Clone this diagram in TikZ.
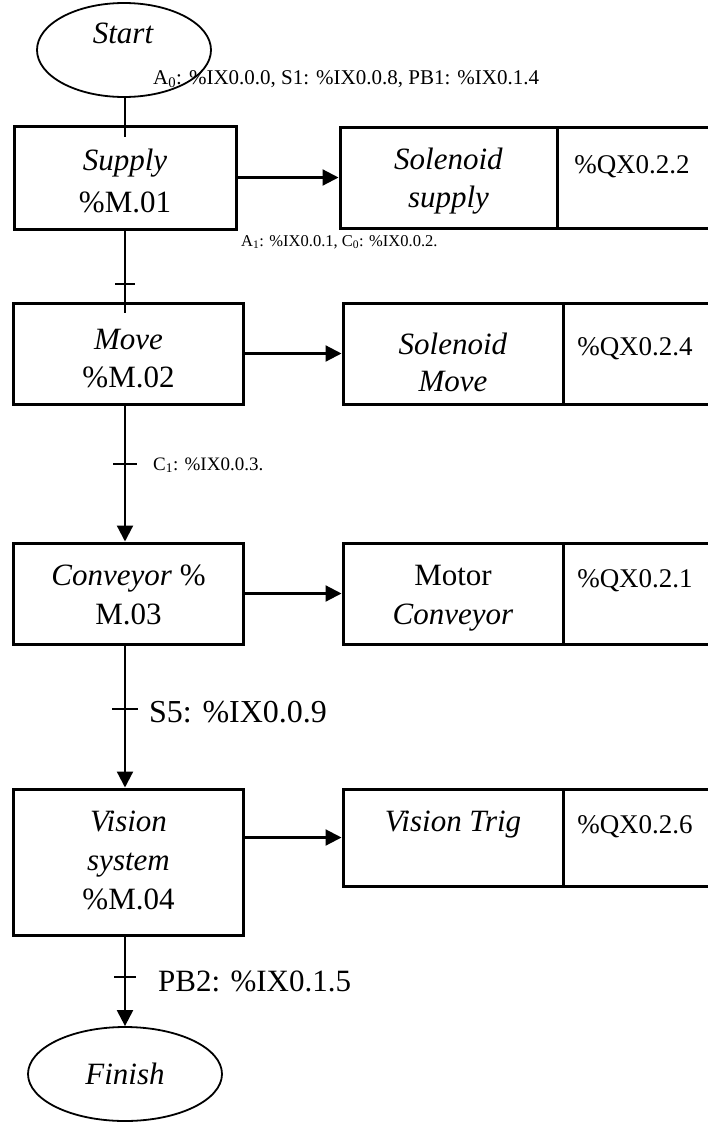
\documentclass[tikz,border=0pt]{standalone}
\usepackage{fontspec}
\setmainfont{Liberation Serif}
\usetikzlibrary{arrows.meta,shapes.geometric}
\begin{document}
\begin{tikzpicture}[x=1pt,y=-1pt,
  box/.style={draw, line width=3pt, inner sep=0pt},
  term/.style={draw, ellipse, line width=1.8pt, inner sep=0pt},
  txt/.style={inner sep=0pt, anchor=north, align=center, font=\fontsize{31}{39}\selectfont},
  termtxt/.style={inner sep=0pt, anchor=base, font=\fontsize{31}{39}\selectfont\itshape},
  addr/.style={inner sep=0pt, anchor=base, font=\fontsize{27}{32}\selectfont},
  cond/.style={inner sep=0pt, anchor=base west},
  link/.style={line width=2.2pt},
  flow/.style={line width=2.2pt, -{Triangle[length=16pt,width=16pt]}},
  tick/.style={line width=2.8pt}
]
\useasboundingbox (0,0) rectangle (707,1122);

% terminal steps
\node[term, minimum width=174, minimum height=94] (start) at (124,50) {};
\node[termtxt] (starttxt) at (123,43) {Start};
\node[term, minimum width=194, minimum height=94] (finish) at (125,1074) {};
\node[termtxt] (finishtxt) at (125,1084) {Finish};

% sequence steps
\node[box, minimum width=222, minimum height=103] (supply) at (125,177.5) {};
\node[box, minimum width=230, minimum height=101] (move)   at (128.5,353.5) {};
\node[box, minimum width=230, minimum height=101] (conv)   at (128.5,593.5) {};
\node[box, minimum width=230, minimum height=146] (vision) at (128.5,862) {};

\node[txt, font=\fontsize{31}{42}\selectfont] (supplytxt) at (125,149) {\textit{Supply}\\\%M.01};
\node[txt, font=\fontsize{31}{38}\selectfont] (movetxt) at (128.5,329) {\textit{Move}\\\%M.02};
\node[txt] (convtxt) at (128.5,565) {\textit{Conveyor} \%\\M.03};
\node[txt] (visiontxt) at (128.5,811) {\textit{Vision}\\\textit{system}\\\%M.04};

% actions: description cell and output cell
\node[box, minimum width=217, minimum height=101] (act1) at (448.5,177.5) {};
\node[box, minimum width=155, minimum height=101] (out1) at (634.5,177.5) {};
\node[box, minimum width=220, minimum height=101] (act2) at (453,353.5) {};
\node[box, minimum width=149, minimum height=101] (out2) at (637.5,353.5) {};
\node[box, minimum width=220, minimum height=101] (act3) at (453,593.5) {};
\node[box, minimum width=149, minimum height=101] (out3) at (637.5,593.5) {};
\node[box, minimum width=220, minimum height=97]  (act4) at (453,837.5) {};
\node[box, minimum width=149, minimum height=97]  (out4) at (637.5,837.5) {};

\node[txt, font=\fontsize{31}{38}\selectfont] (act1txt) at (448.5,148) {\textit{Solenoid}\\\textit{supply}};
\node[txt, font=\fontsize{31}{37}\selectfont] (act2txt) at (453,333) {\textit{Solenoid}\\\textit{Move}};
\node[txt] (act3txt) at (453,565) {Motor\\\textit{Conveyor}};
\node[txt] (act4txt) at (453,811) {\textit{Vision Trig}};

\node[addr] (out1txt) at (632,173) {\%QX0.2.2};
\node[addr] (out2txt) at (635,355) {\%QX0.2.4};
\node[addr] (out3txt) at (635,587) {\%QX0.2.1};
\node[addr] (out4txt) at (635,833) {\%QX0.2.6};

% action arrows
\draw[flow] (supply.east |- act1.west) -- (act1.west);
\draw[flow] (move.east |- act2.west) -- (act2.west);
\draw[flow] (conv.east |- act3.west) -- (act3.west);
\draw[flow] (vision.east |- act4.west) -- (act4.west);

% sequence links
\coordinate (col) at (125,0);
\draw[link] (col |- start.south) -- ([yshift=-12pt]col |- supply.north);
\draw[link] (col |- supply.south) -- ([yshift=-11pt]col |- move.north);
\draw[flow] (col |- move.south) -- (col |- conv.north);
\draw[flow] (col |- conv.south) -- (col |- vision.north);
\draw[flow] (col |- vision.south) -- (col |- finish.north);

% transitions
\coordinate (t1) at (125,284);
\coordinate (t2) at (125,464);
\coordinate (t3) at (125,709);
\coordinate (t4) at (125,977);
\draw[line width=1.2pt] ([xshift=-10pt]t1) -- ([xshift=10pt]t1);
\draw[tick] ([xshift=-12pt]t2) -- ([xshift=12pt]t2);
\draw[tick] ([xshift=-13pt]t3) -- ([xshift=13pt]t3);
\draw[tick] ([xshift=-11pt]t4) -- ([xshift=11pt]t4);

% transition conditions
\node[cond, font=\fontsize{21}{24}\selectfont] (c0) at (153,84) {A\textsubscript{0}: \%IX0.0.0, S1: \%IX0.0.8, PB1: \%IX0.1.4};
\node[cond, font=\fontsize{16.5}{20}\selectfont] (c1) at (241,246) {A\textsubscript{1}: \%IX0.0.1, C\textsubscript{0}: \%IX0.0.2.};
\node[cond, font=\fontsize{19}{22}\selectfont] (c2) at (153,470) {C\textsubscript{1}: \%IX0.0.3.};
\node[cond, font=\fontsize{32}{36}\selectfont] (c3) at (149,722) {S5: \%IX0.0.9};
\node[cond, font=\fontsize{31}{36}\selectfont] (c4) at (158,991) {PB2: \%IX0.1.5};
\end{tikzpicture}
\end{document}
